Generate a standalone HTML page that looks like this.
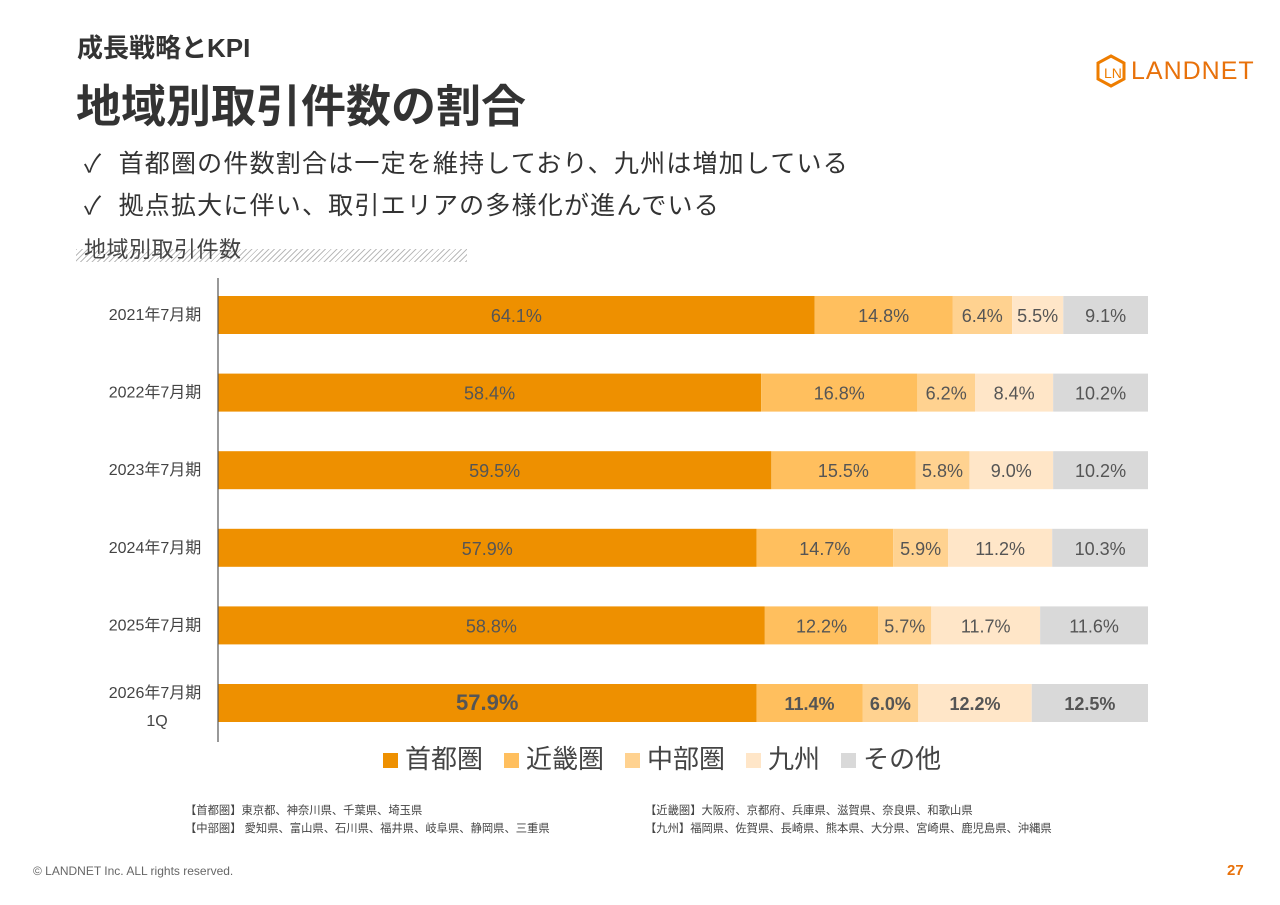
<!DOCTYPE html>
<html><head><meta charset="utf-8">
<style>
body{margin:0;width:1280px;height:905px;background:#fff;position:relative;overflow:hidden;font-family:"Liberation Sans","Noto Sans CJK JP",sans-serif;color:#333}
.abs{position:absolute;white-space:nowrap}
</style></head><body>
<div class="abs" style="left:77px;top:28px;font-size:26px;font-weight:bold;color:#333">成長戦略とKPI</div>
<div class="abs" style="left:76px;top:70px;font-size:45px;font-weight:bold;color:#333">地域別取引件数の割合</div>
<div class="abs" style="left:1096px;top:54px;height:34px;display:flex;align-items:center">
<svg width="30" height="34" viewBox="0 0 30 34"><polygon points="15,2 28,9 28,25 15,32 2,25 2,9" fill="none" stroke="#ee7d00" stroke-width="3"/><text x="8" y="24" font-size="14" fill="#ee7d00" font-family="Liberation Sans">LN</text></svg>
<span style="margin-left:5px;font-size:25px;letter-spacing:1px;color:#e8710a">LANDNET</span></div>
<div class="abs" style="left:84px;top:144px;font-size:25px;letter-spacing:1.2px;color:#333">✓&nbsp; 首都圏の件数割合は一定を維持しており、九州は増加している</div>
<div class="abs" style="left:84px;top:186px;font-size:25px;letter-spacing:1.2px;color:#333">✓&nbsp; 拠点拡大に伴い、取引エリアの多様化が進んでいる</div>
<div class="abs" style="left:76px;top:249px;width:391px;height:13px;background:repeating-linear-gradient(135deg,#bbb 0 1px,#fff 1px 4px)"></div>
<div class="abs" style="left:84px;top:232px;font-size:22px;letter-spacing:0.5px;color:#444">地域別取引件数</div>
<svg class="abs" style="left:0;top:0" width="1280" height="905" id="chart"></svg>
<div class="abs" style="left:383px;top:739px;font-size:26px;color:#444;display:flex;gap:21px">
<span><span style="display:inline-block;width:15px;height:15px;background:#ee9000;margin-right:7px"></span>首都圏</span>
<span><span style="display:inline-block;width:15px;height:15px;background:#ffbf5e;margin-right:7px"></span>近畿圏</span>
<span><span style="display:inline-block;width:15px;height:15px;background:#ffd290;margin-right:7px"></span>中部圏</span>
<span><span style="display:inline-block;width:15px;height:15px;background:#ffe6c8;margin-right:7px"></span>九州</span>
<span><span style="display:inline-block;width:15px;height:15px;background:#d9d9d9;margin-right:7px"></span>その他</span>
</div>
<div class="abs" style="left:185px;top:802px;font-size:11.3px;color:#444">【首都圏】東京都、神奈川県、千葉県、埼玉県</div>
<div class="abs" style="left:185px;top:820px;font-size:11.3px;color:#444">【中部圏】 愛知県、富山県、石川県、福井県、岐阜県、静岡県、三重県</div>
<div class="abs" style="left:645px;top:802px;font-size:11.3px;color:#444">【近畿圏】大阪府、京都府、兵庫県、滋賀県、奈良県、和歌山県</div>
<div class="abs" style="left:645px;top:820px;font-size:11.3px;color:#444">【九州】福岡県、佐賀県、長崎県、熊本県、大分県、宮崎県、鹿児島県、沖縄県</div>
<div class="abs" style="left:33px;top:864px;font-size:12px;color:#666">© LANDNET Inc. ALL rights reserved.</div>
<div class="abs" style="left:1227px;top:862px;font-size:15px;font-weight:bold;color:#e8710a">27</div>
<script>
const categories=["2021年7月期","2022年7月期","2023年7月期","2024年7月期","2025年7月期","2026年7月期|1Q"];
const shutoken=[64.1,58.4,59.5,57.9,58.8,57.9];
const kinki=[14.8,16.8,15.5,14.7,12.2,11.4];
const chubu=[6.4,6.2,5.8,5.9,5.7,6.0];
const kyushu=[5.5,8.4,9.0,11.2,11.7,12.2];
const other=[9.1,10.2,10.2,10.3,11.6,12.5];
const series=[shutoken,kinki,chubu,kyushu,other];
const colors=["#ee9000","#ffbf5e","#ffd290","#ffe6c8","#d9d9d9"];
const names=["shutoken","kinki","chubu","kyushu","other"];
const svg=document.getElementById('chart');const NS="http://www.w3.org/2000/svg";
const x0=218,x1=1148,y0=315,step=77.6,bh=38;
const xs=v=>(v/100)*(x1-x0);
const yc=i=>y0+i*step;
function mk(t,a){const e=document.createElementNS(NS,t);for(const k in a)e.setAttribute(k,a[k]);svg.appendChild(e);return e;}
categories.forEach((c,i)=>{
  let acc=0;const total=series.reduce((s,a)=>s+a[i],0);const last=i===categories.length-1;
  series.forEach((s,j)=>{
    const v=s[i];let x=x0+xs(acc/total*100);let w=xs(v/total*100);acc+=v;
    const r=mk('rect',{x:x,y:yc(i)-bh/2,width:w,height:bh,fill:colors[j]});
    
    
    const t=mk('text',{x:x+w/2,y:yc(i)+7,'text-anchor':'middle','font-size':(last&&j===0)?22:18,fill:'#555','font-weight':last?'bold':'normal'});
    t.textContent=v.toFixed(1)+'%';
    
    
  });
  const parts=c.split('|');
  parts.forEach((p,k)=>{
    const t=mk('text',{x:k?157:155,y:yc(i)+5-(parts.length>1?10:0)+k*28,'text-anchor':'middle','font-size':16,fill:'#444'});
    t.textContent=p;
    
    
  });
});
const ax=mk('line',{x1:x0,x2:x0,y1:278,y2:742,stroke:'#555','stroke-width':1.2});


</script>
</body></html>
